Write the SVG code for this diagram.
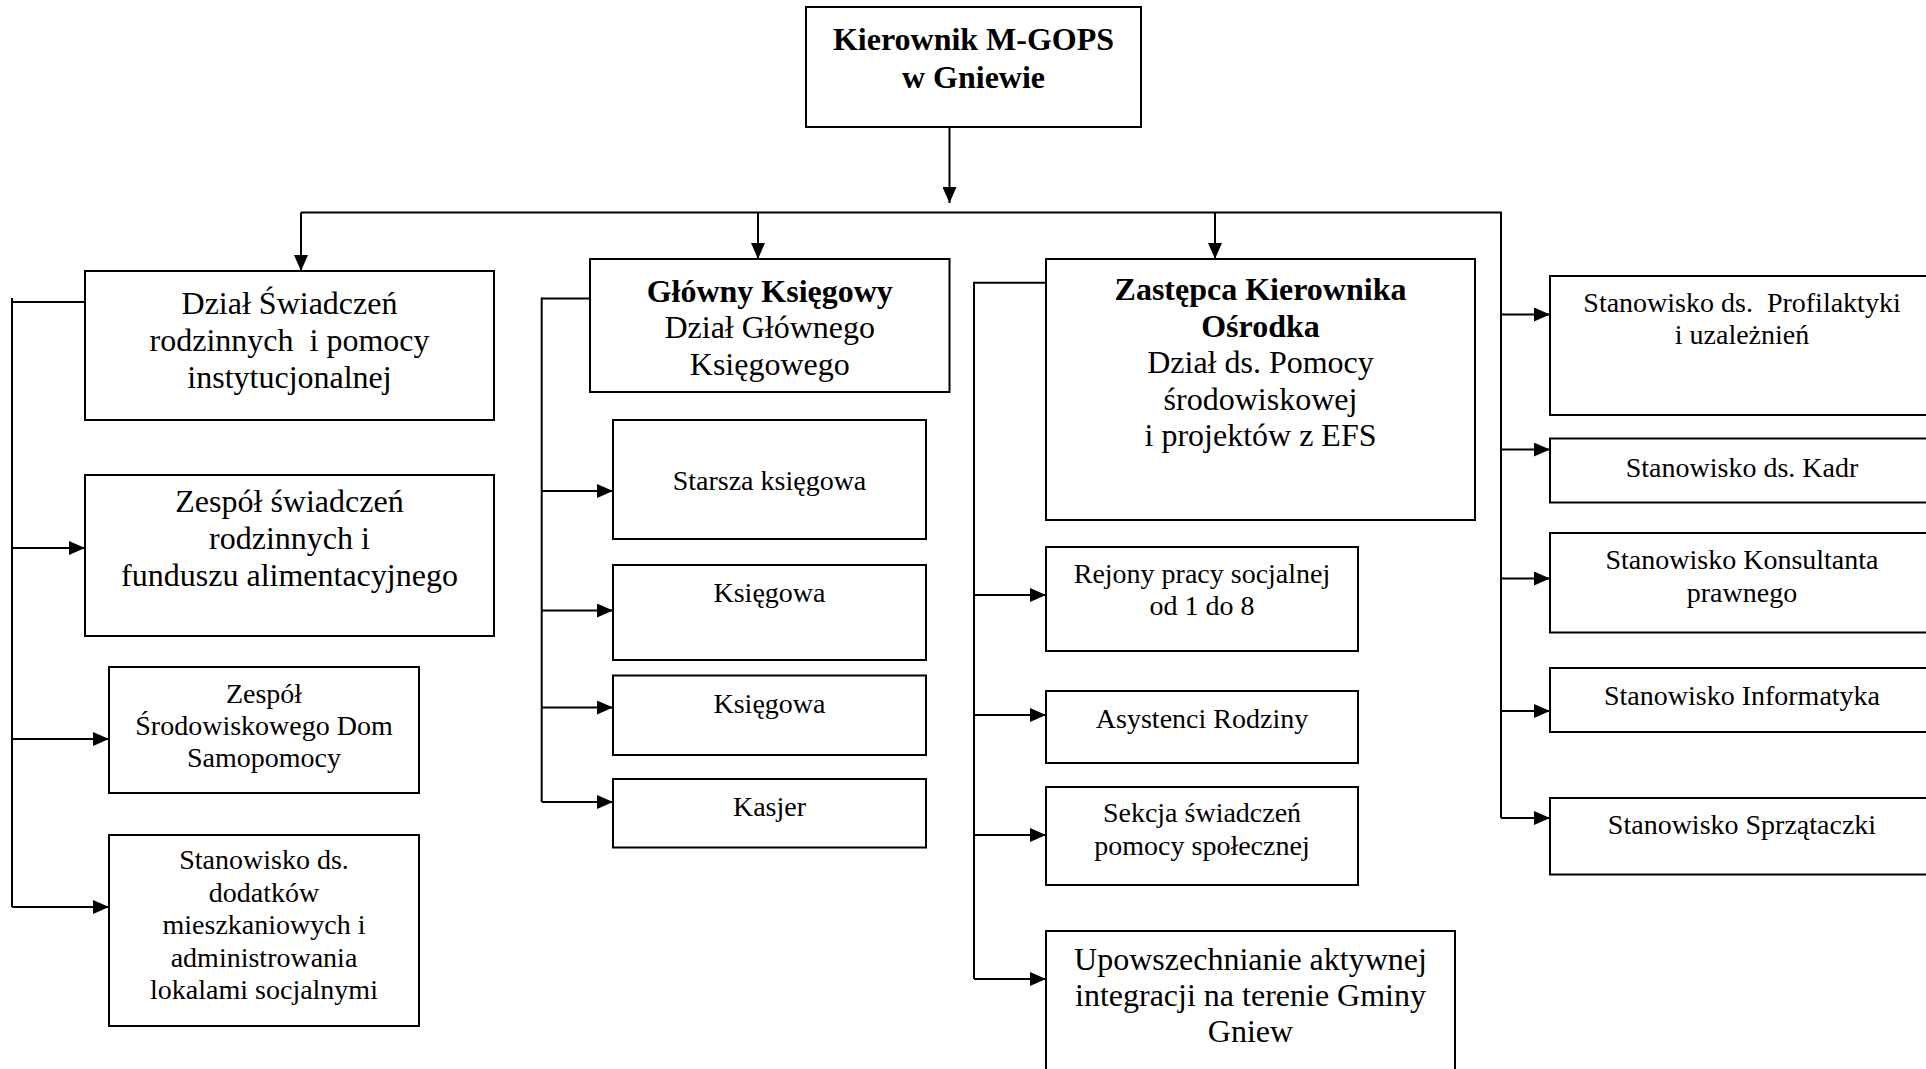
<svg xmlns="http://www.w3.org/2000/svg" width="1926" height="1069" viewBox="0 0 1926 1069">
<style>
.box{fill:#fff;stroke:#000;stroke-width:2}
.ln{fill:none;stroke:#000;stroke-width:2}
.arr{fill:none;stroke:#000;stroke-width:2;marker-end:url(#ah)}
text{font-family:"Liberation Serif","Times New Roman",serif;fill:#000;text-anchor:middle}
.L{font-size:32px}
.S{font-size:28px}
.B{font-weight:bold}
</style>
<defs>
<marker id="ah" markerUnits="userSpaceOnUse" markerWidth="16" markerHeight="14" refX="16" refY="7" orient="auto">
<path d="M0,0 L16,7 L0,14 Z" fill="#000"/>
</marker>
</defs>
<rect width="1926" height="1069" fill="#fff"/>

<g id="connectors">
<line class="arr" x1="949.5" y1="127" x2="949.5" y2="203"/>
<polyline class="ln" points="301,212.5 1501,212.5 1501,818"/>
<line class="arr" x1="301" y1="212.5" x2="301" y2="271"/>
<line class="arr" x1="758" y1="212.5" x2="758" y2="259"/>
<line class="arr" x1="1215" y1="212.5" x2="1215" y2="259"/>
<!-- left column -->
<polyline class="ln" points="85,302 12,302"/>
<line class="ln" x1="12" y1="298" x2="12" y2="907"/>
<line class="arr" x1="12" y1="548" x2="85" y2="548"/>
<line class="arr" x1="12" y1="739" x2="109" y2="739"/>
<line class="arr" x1="12" y1="907" x2="109" y2="907"/>
<!-- middle column -->
<polyline class="ln" points="590,298.5 541.7,298.5 541.7,802"/>
<line class="arr" x1="541.7" y1="491" x2="613" y2="491"/>
<line class="arr" x1="541.7" y1="610.5" x2="613" y2="610.5"/>
<line class="arr" x1="541.7" y1="707.5" x2="613" y2="707.5"/>
<line class="arr" x1="541.7" y1="802" x2="613" y2="802"/>
<!-- third column -->
<polyline class="ln" points="1046,282.7 974,282.7 974,979"/>
<line class="arr" x1="974" y1="595" x2="1046" y2="595"/>
<line class="arr" x1="974" y1="715" x2="1046" y2="715"/>
<line class="arr" x1="974" y1="835" x2="1046" y2="835"/>
<line class="arr" x1="974" y1="979" x2="1046" y2="979"/>
<!-- right column -->
<line class="arr" x1="1501" y1="314.5" x2="1550" y2="314.5"/>
<line class="arr" x1="1501" y1="449.6" x2="1550" y2="449.6"/>
<line class="arr" x1="1501" y1="578.5" x2="1550" y2="578.5"/>
<line class="arr" x1="1501" y1="711" x2="1550" y2="711"/>
<line class="arr" x1="1501" y1="818" x2="1550" y2="818"/>
</g>

<g id="kierownik">
<rect class="box" x="806" y="7" width="335" height="120"/>
<text class="L B"><tspan x="973.5" y="50">Kierownik M-GOPS</tspan><tspan x="973.5" y="88">w Gniewie</tspan></text>
</g>

<g id="dzial-swiadczen">
<rect class="box" x="85" y="271" width="409" height="149"/>
<text class="L"><tspan x="289.5" y="314">Dział Świadczeń</tspan><tspan x="289.5" y="351" xml:space="preserve">rodzinnych  i pomocy</tspan><tspan x="289.5" y="388">instytucjonalnej</tspan></text>
</g>

<g id="zespol-swiadczen">
<rect class="box" x="85" y="475" width="409" height="161"/>
<text class="L"><tspan x="289.5" y="512">Zespół świadczeń</tspan><tspan x="289.5" y="549">rodzinnych i</tspan><tspan x="289.5" y="586">funduszu alimentacyjnego</tspan></text>
</g>

<g id="zespol-sdm">
<rect class="box" x="109" y="667" width="310" height="126"/>
<text class="S"><tspan x="264" y="703">Zespół</tspan><tspan x="264" y="735">Środowiskowego Dom</tspan><tspan x="264" y="767">Samopomocy</tspan></text>
</g>

<g id="stanowisko-dodatkow">
<rect class="box" x="109" y="835" width="310" height="191"/>
<text class="S"><tspan x="264" y="869">Stanowisko ds.</tspan><tspan x="264" y="901.5">dodatków</tspan><tspan x="264" y="934">mieszkaniowych i</tspan><tspan x="264" y="966.5">administrowania</tspan><tspan x="264" y="999">lokalami socjalnymi</tspan></text>
</g>

<g id="glowny-ksiegowy">
<rect class="box" x="590" y="259" width="359.5" height="133"/>
<text class="L"><tspan class="B" x="769.75" y="302">Główny Księgowy</tspan><tspan x="769.75" y="338">Dział Głównego</tspan><tspan x="769.75" y="375">Księgowego</tspan></text>
</g>

<g id="starsza-ksiegowa">
<rect class="box" x="613" y="420" width="313" height="119"/>
<text class="S" x="769.5" y="490">Starsza księgowa</text>
</g>

<g id="ksiegowa-1">
<rect class="box" x="613" y="565" width="313" height="95"/>
<text class="S" x="769.5" y="602">Księgowa</text>
</g>

<g id="ksiegowa-2">
<rect class="box" x="613" y="675.5" width="313" height="79.5"/>
<text class="S" x="769.5" y="713">Księgowa</text>
</g>

<g id="kasjer">
<rect class="box" x="613" y="779" width="313" height="68.5"/>
<text class="S" x="769.5" y="816">Kasjer</text>
</g>

<g id="zastepca">
<rect class="box" x="1046" y="259" width="429" height="261"/>
<text class="L"><tspan class="B" x="1260.5" y="300">Zastępca Kierownika</tspan><tspan class="B" x="1260.5" y="336.5">Ośrodka</tspan><tspan x="1260.5" y="373">Dział ds. Pomocy</tspan><tspan x="1260.5" y="409.5">środowiskowej</tspan><tspan x="1260.5" y="446">i projektów z EFS</tspan></text>
</g>

<g id="rejony">
<rect class="box" x="1046" y="547" width="312" height="104"/>
<text class="S"><tspan x="1202" y="583">Rejony pracy socjalnej</tspan><tspan x="1202" y="615">od 1 do 8</tspan></text>
</g>

<g id="asystenci">
<rect class="box" x="1046" y="691" width="312" height="72"/>
<text class="S" x="1202" y="728">Asystenci Rodziny</text>
</g>

<g id="sekcja">
<rect class="box" x="1046" y="787" width="312" height="98"/>
<text class="S"><tspan x="1202" y="822">Sekcja świadczeń</tspan><tspan x="1202" y="855">pomocy społecznej</tspan></text>
</g>

<g id="upowszechnianie">
<rect class="box" x="1046" y="931" width="409" height="150"/>
<text class="L"><tspan x="1250.5" y="970">Upowszechnianie aktywnej</tspan><tspan x="1250.5" y="1006">integracji na terenie Gminy</tspan><tspan x="1250.5" y="1042">Gniew</tspan></text>
</g>

<g id="profilaktyka">
<rect class="box" x="1550" y="276" width="386" height="139"/>
<text class="S"><tspan x="1742" y="311.5" xml:space="preserve">Stanowisko ds.  Profilaktyki</tspan><tspan x="1742" y="344">i uzależnień</tspan></text>
</g>

<g id="kadry">
<rect class="box" x="1550" y="438.5" width="386" height="64"/>
<text class="S" x="1742" y="477">Stanowisko ds. Kadr</text>
</g>

<g id="konsultant">
<rect class="box" x="1550" y="533" width="386" height="99.5"/>
<text class="S"><tspan x="1742" y="569">Stanowisko Konsultanta</tspan><tspan x="1742" y="602">prawnego</tspan></text>
</g>

<g id="informatyk">
<rect class="box" x="1550" y="668" width="386" height="64"/>
<text class="S" x="1742" y="705">Stanowisko Informatyka</text>
</g>

<g id="sprzataczka">
<rect class="box" x="1550" y="798" width="386" height="76.5"/>
<text class="S" x="1742" y="834">Stanowisko Sprzątaczki</text>
</g>
</svg>
